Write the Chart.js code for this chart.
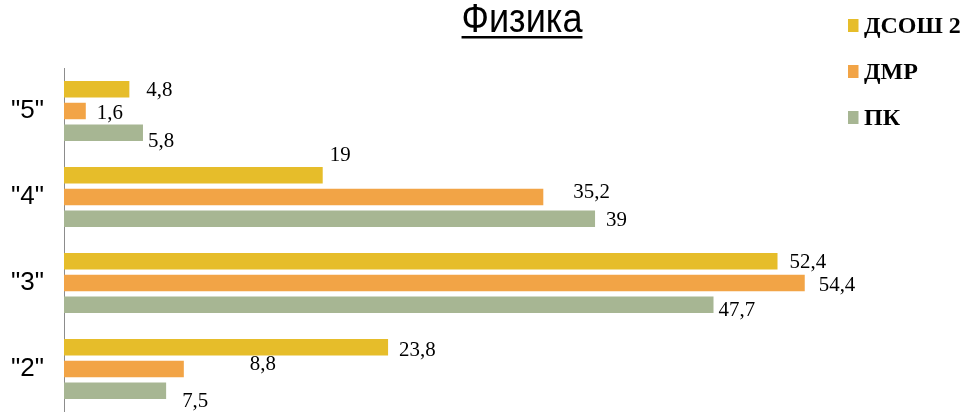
<!DOCTYPE html>
<html>
<head>
<meta charset="utf-8">
<script src="https://cdn.jsdelivr.net/npm/chart.js@4.4.1/dist/chart.umd.min.js"></script>
<style>
  html, body { margin: 0; padding: 0; background: #ffffff; }
  #wrap { width: 965px; height: 412px; }
</style>
</head>
<body>
<div id="wrap"><canvas id="c" width="965" height="412"></canvas></div>
<script>
// ---- data ----
const titleText = 'Физика';
const categories = ['"5"', '"4"', '"3"', '"2"'];
const seriesNames = ['ДСОШ 2', 'ДМР', 'ПК'];
const dsosh2 = [4.8, 19, 52.4, 23.8];
const dmr = [1.6, 35.2, 54.4, 8.8];
const pk = [5.8, 39, 47.7, 7.5];
const seriesColors = ['#E6BD2A', '#F2A446', '#A7B693'];

// label nudges relative to bar end (style only)
const labelNudge = [
  [[17, 1], [7, -20], [12, 1], [11, 3]],
  [[11, 2], [30, -5], [14, 2], [66, -5]],
  [[5, 9], [11, 2], [5, 6], [16, 11]]
];

const valueLabels = {
  id: 'valueLabels',
  afterDatasetsDraw(chart) {
    const ctx = chart.ctx;
    const sx = 0.95;
    chart.data.datasets.forEach((ds, di) => {
      const meta = chart.getDatasetMeta(di);
      meta.data.forEach((bar, i) => {
        const v = ds.data[i];
        const n = labelNudge[di][i];
        ctx.save();
        ctx.font = '22px "Liberation Serif", "Times New Roman", serif';
        ctx.fillStyle = '#000';
        ctx.textAlign = 'left';
        ctx.textBaseline = 'middle';
        ctx.translate(bar.x + n[0], bar.y + n[1]);
        ctx.scale(sx, 1);
        ctx.fillText(String(v).replace('.', ','), 0, 0);
        ctx.restore();
      });
    });
  }
};

const titleAndLegend = {
  id: 'titleAndLegend',
  afterDraw(chart) {
    const ctx = chart.ctx;
    // title
    ctx.save();
    ctx.font = '41px "Liberation Sans", Arial, sans-serif';
    ctx.fillStyle = '#000';
    ctx.textBaseline = 'alphabetic';
    const sx = 0.88;
    const w = ctx.measureText(titleText).width * sx;
    const cx = 522;
    const x0 = cx - w / 2;
    ctx.translate(x0, 32);
    ctx.scale(sx, 1);
    ctx.fillText(titleText, 0, 0);
    ctx.restore();
    ctx.save();
    ctx.fillStyle = '#000';
    ctx.fillRect(x0, 36, w, 2.5);
    ctx.restore();
    // legend
    ctx.save();
    ctx.font = 'bold 24px "Liberation Serif", "Times New Roman", serif';
    ctx.textBaseline = 'middle';
    ctx.textAlign = 'left';
    const ys = [25.5, 71.5, 117.5];
    seriesNames.forEach((name, i) => {
      ctx.fillStyle = seriesColors[i];
      ctx.fillRect(848, ys[i] - 6.5, 10.5, 13);
      ctx.fillStyle = '#000';
      ctx.fillText(name, 864, ys[i] + 1);
    });
    ctx.restore();
  }
};

new Chart(document.getElementById('c'), {
  type: 'bar',
  data: {
    labels: categories,
    datasets: [
      { label: seriesNames[0], data: dsosh2, backgroundColor: seriesColors[0], borderWidth: 0 },
      { label: seriesNames[1], data: dmr, backgroundColor: seriesColors[1], borderWidth: 0 },
      { label: seriesNames[2], data: pk, backgroundColor: seriesColors[2], borderWidth: 0 }
    ]
  },
  options: {
    indexAxis: 'y',
    responsive: false,
    animation: false,
    devicePixelRatio: 1,
    categoryPercentage: 0.757,
    barPercentage: 0.76,
    layout: { padding: { top: 68, right: 84, bottom: 0, left: 0 } },
    plugins: {
      legend: { display: false },
      title: { display: false },
      tooltip: { enabled: false }
    },
    scales: {
      x: { display: false, min: 0, max: 60 },
      y: {
        afterFit(scale) {
          scale.width = 64;
          scale.paddingTop = 0;
          scale.paddingBottom = 0;
        },
        grid: { display: true, drawOnChartArea: false, drawTicks: false },
        border: { display: true, color: '#8c8c8c', width: 1 },
        ticks: {
          color: '#000',
          padding: 20,
          font: { family: '"Liberation Sans", Arial, sans-serif', size: 26 }
        }
      }
    }
  },
  plugins: [valueLabels, titleAndLegend]
});
</script>
</body>
</html>
